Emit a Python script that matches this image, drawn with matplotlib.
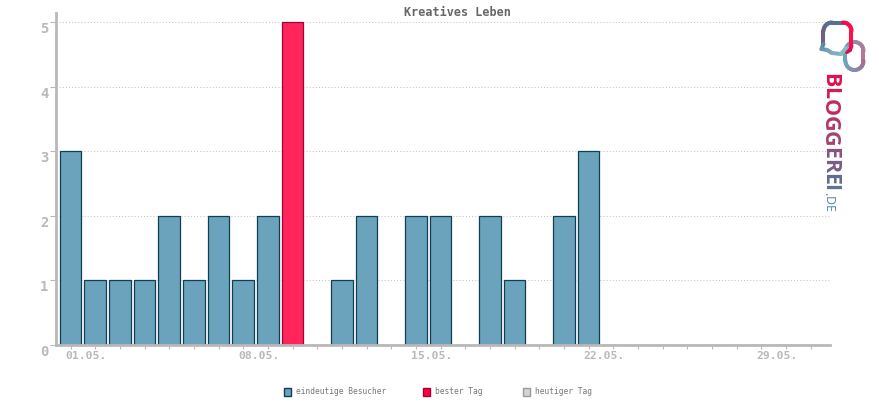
import matplotlib
matplotlib.use('Agg')
import matplotlib.pyplot as plt
import numpy as np
from matplotlib.colors import LinearSegmentedColormap
from matplotlib.patches import Rectangle

days = list(range(1, 32))
visitors = [3, 1, 1, 1, 2, 1, 2, 1, 2, 5, 0, 1, 2, 0, 2, 2, 0, 2, 1, 0, 2, 3,
            0, 0, 0, 0, 0, 0, 0, 0, 0]
tick_days = [1, 8, 15, 22, 29]
tick_labels = ['01.05.', '08.05.', '15.05.', '22.05.', '29.05.']
y_ticks = [0, 1, 2, 3, 4, 5]
legend_labels = ['eindeutige Besucher', 'bester Tag', 'heutiger Tag']
logo_word = 'BLOGGEREI'
logo_suffix = '.DE'

GRAY = '#b9b9b9'
MONO = 'DejaVu Sans Mono'

fig = plt.figure(figsize=(8.7, 4), dpi=100)
ax = fig.add_axes([56 / 870, 55 / 400, 774 / 870, 332 / 400])
ax.set_xlim(0.412, 31.79)
ax.set_ylim(0, 332 / 64.6)

# best day gets the red bar
best = max(visitors)
face = ['#ff2459' if v == best else '#6ca3bc' for v in visitors]
edge = ['#a5003a' if v == best else '#0e3f52' for v in visitors]
ax.bar(days, visitors, width=0.89, color=face, edgecolor=edge, linewidth=0.9, zorder=2)

ax.yaxis.grid(True, linestyle=(0, (1, 2)), color='#c4c4c4', linewidth=0.75, zorder=0)
ax.set_axisbelow(True)
for s in ['top', 'right']:
    ax.spines[s].set_visible(False)
for s in ['left', 'bottom']:
    ax.spines[s].set_color(GRAY)
    ax.spines[s].set_linewidth(2)
    ax.spines[s].set_zorder(3)

ax.set_xticks(days)
ax.set_xticklabels([])
ax.tick_params(axis='x', length=3, width=0.8, color=GRAY)
ax.set_yticks(y_ticks)
ax.set_yticklabels([str(v) for v in y_ticks], family=MONO, fontweight='bold',
                   fontsize=10, color=GRAY, va='top')
ax.tick_params(axis='y', length=4, width=0.8, color=GRAY, pad=1.5)

# overlay in pixel coordinates for title, tick text, legend and logo
ov = fig.add_axes([0, 0, 1, 1], facecolor='none')
ov.set_xlim(0, 870)
ov.set_ylim(400, 0)
ov.axis('off')

ov.text(457, 12, 'Kreatives Leben', family=MONO, fontweight='bold', fontsize=8.5,
        color='#666666', ha='center', va='center')

for d, lab in zip(tick_days, tick_labels):
    x = ax.transData.transform((d, 0))[0]
    ov.text(x - 5, 356, lab, family=MONO, fontweight='bold', fontsize=8.2,
            color=GRAY, ha='left', va='center')

legend_x = [284, 423, 523]
legend_face = ['#6ca3bc', '#ff0040', '#d4d4d4']
legend_edge = ['#0e3f52', '#a5003a', '#9a9a9a']
for x, lab, fc, ec in zip(legend_x, legend_labels, legend_face, legend_edge):
    ov.add_patch(Rectangle((x, 388), 7.5, 7.5, facecolor=fc, edgecolor=ec, linewidth=1))
    ov.text(x + 12, 392, lab, family=MONO, fontsize=5.7, color='#777777', ha='left', va='center')

# logo
logo_map = LinearSegmentedColormap.from_list('logo', ['#e0104f', '#a8406f', '#5a6f92', '#4d8cae'])
renderer = fig.canvas.get_renderer()
y = 73
for i, ch in enumerate(logo_word):
    t = ov.text(829.5, y, ch, family='Open Sans', fontweight='bold', fontsize=15.5,
                rotation=270, ha='center', va='top', color=logo_map(i / 11))
    y += t.get_window_extent(renderer).height - 0.2
y += 1
for i, ch in enumerate(logo_suffix):
    t = ov.text(828, y, ch, family='Open Sans', fontsize=9, rotation=270,
                ha='center', va='top', color=logo_map((i + 9) / 11))
    y += t.get_window_extent(renderer).height + 0.2


def grad_line(xs, ys, c0, c1, lw=2.9):
    n = len(xs) - 1
    cm = LinearSegmentedColormap.from_list('g', [c0, c1])
    for i in range(n):
        ov.plot(xs[i:i + 2], ys[i:i + 2], color=cm(i / max(n - 1, 1)), lw=lw,
                solid_capstyle='round', zorder=5)


def arc(cx, cy, r, a0, a1, n=12):
    a = np.radians(np.linspace(a0, a1, n))
    return cx + r * np.cos(a), cy - r * np.sin(a)


# second (rear) loop, rounded box
ax1, ay1 = arc(854.5, 51, 9, 180, 0)
ax2, ay2 = arc(854.5, 61, 9, 360, 180)
grad_line(ax1, ay1, '#6fa5bc', '#b07a98')
grad_line([ax1[-1], ax2[0]], [ay1[-1], ay2[0]], '#b07a98', '#a66a8c')
grad_line(ax2, ay2, '#a66a8c', '#6fa5bc')
grad_line([ax2[-1], ax1[0]], [ay2[-1], ay1[0]], '#6fa5bc', '#6fa5bc')

# front loop, speech bubble
bx, by = arc(832, 31, 8.5, 180, 90, 8)
grad_line([823.5, 823.5], [44, 31], '#6f5f86', '#6f5f86')
grad_line(bx, by, '#6f5f86', '#4f7491')
cx, cy = arc(843, 31, 8.5, 90, 0, 8)
grad_line([832, 843], [22.5, 22.5], '#4f7491', '#e8104f')
grad_line(cx, cy, '#e8104f', '#ff0f4a')
grad_line([851.5, 851.5, 850, 847], [31, 46, 50, 52], '#ff0f4a', '#d81050')
grad_line([823.5, 821.5, 827, 832, 841, 846], [44, 49, 50, 53, 54, 48], '#5a8aa8', '#8db8c9')

fig.savefig('out.png', dpi=100)
